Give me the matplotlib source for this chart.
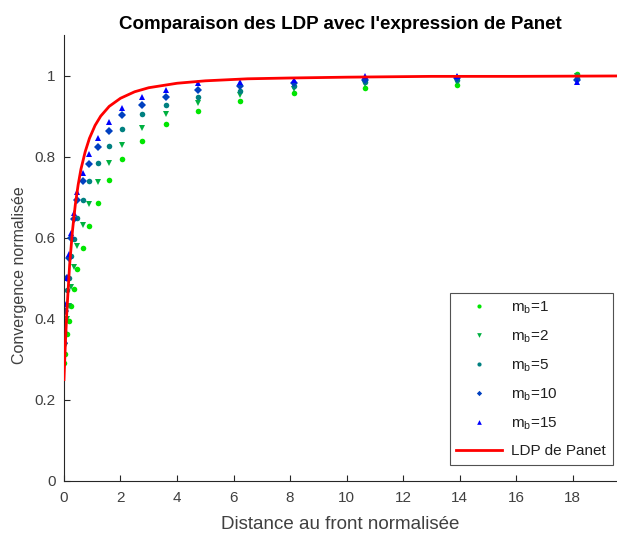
import numpy as np
import matplotlib as mpl
mpl.use('Agg')
import matplotlib.pyplot as plt

mpl.rcParams['font.family'] = ['Liberation Sans', 'DejaVu Sans']

# normalised distance to the face (shared by all series)
dist = [0.0, 0.05, 0.12, 0.19, 0.26, 0.35, 0.47, 0.66, 0.90, 1.19,
        1.58, 2.07, 2.76, 3.62, 4.76, 6.22, 8.14, 10.65, 13.91, 18.15]

# normalised convergence for each m_b
conv_mb1 = [0.292, 0.314, 0.363, 0.395, 0.432, 0.473, 0.522, 0.575, 0.630, 0.686,
            0.742, 0.793, 0.839, 0.880, 0.913, 0.938, 0.957, 0.970, 0.977, 1.003]
conv_mb2 = [0.310, 0.333, 0.400, 0.432, 0.478, 0.528, 0.579, 0.631, 0.683, 0.737,
            0.784, 0.829, 0.870, 0.905, 0.932, 0.952, 0.966, 0.978, 0.983, 0.998]
conv_mb5 = [0.370, 0.420, 0.470, 0.500, 0.555, 0.598, 0.649, 0.694, 0.741, 0.784,
            0.827, 0.868, 0.905, 0.928, 0.948, 0.963, 0.975, 0.985, 0.990, 0.993]
conv_mb10 = [0.340, 0.420, 0.500, 0.550, 0.600, 0.645, 0.692, 0.739, 0.782, 0.823,
             0.864, 0.903, 0.928, 0.948, 0.965, 0.975, 0.982, 0.990, 0.995, 0.988]
conv_mb15 = [0.350, 0.437, 0.500, 0.560, 0.612, 0.661, 0.712, 0.760, 0.806, 0.847,
             0.885, 0.921, 0.948, 0.965, 0.982, 0.985, 0.990, 0.998, 1.000, 0.985]

# Panet curve
panet_x = [0.0, 0.05, 0.1, 0.2, 0.3, 0.4, 0.5, 0.6, 0.75, 0.9, 1.1, 1.3, 1.6,
           2.0, 2.5, 3.0, 4.0, 5.0, 6.5, 8.0, 10.0, 13.0, 16.0, 19.6]
panet_y = [0.250, 0.341, 0.416, 0.533, 0.617, 0.681, 0.730, 0.769, 0.812, 0.845,
           0.877, 0.900, 0.924, 0.944, 0.960, 0.970, 0.981, 0.987, 0.992, 0.994,
           0.996, 0.998, 0.998, 0.999]

series = [
    ('m$_\\mathregular{b}$=1', conv_mb1, '#00e600', 'o', 4.0),
    ('m$_\\mathregular{b}$=2', conv_mb2, '#00b040', 'v', 4.5),
    ('m$_\\mathregular{b}$=5', conv_mb5, '#008080', 'o', 4.0),
    ('m$_\\mathregular{b}$=10', conv_mb10, '#0040c0', 'D', 3.6),
    ('m$_\\mathregular{b}$=15', conv_mb15, '#0000ff', '^', 4.5),
]

fig = plt.figure(figsize=(6.17, 5.37), dpi=100)
ax = fig.add_axes([0.1037, 0.1043, 0.8963, 0.8305])

for label, vals, col, mk, ms in series:
    ax.plot(dist, vals, linestyle='none', marker=mk, markersize=ms,
            color=col, markeredgewidth=0, label=label)

ax.plot(panet_x, panet_y, color='#ff0000', lw=2, label='LDP de Panet', zorder=5)

ax.set_xlim(0, 19.57)
ax.set_ylim(0, 1.1)
ax.set_xticks(np.arange(0, 19, 2))
ax.set_yticks([0, 0.2, 0.4, 0.6, 0.8, 1])
ax.set_yticklabels(['0', '0.2', '0.4', '0.6', '0.8', '1'])

for s in ['top', 'right']:
    ax.spines[s].set_visible(False)
for s in ['left', 'bottom']:
    ax.spines[s].set_color('#262626')
    ax.spines[s].set_linewidth(0.8)
ax.tick_params(direction='in', length=4, width=0.8, colors='#262626',
               labelsize=11, labelcolor='#404040')
ax.tick_params(axis='x', pad=7)
ax.tick_params(axis='y', pad=6)

ax.set_title("Comparaison des LDP avec l'expression de Panet",
             fontsize=13.5, fontweight='bold', pad=4)
ax.set_xlabel('Distance au front normalisée', fontsize=13.5, color='#404040', labelpad=8)
ax.set_ylabel('Convergence normalisée', fontsize=11.5, color='#404040')
ax.yaxis.set_label_coords(-0.067, 0.462)

leg = ax.legend(loc='lower right', bbox_to_anchor=(0.9928, 0.0354), borderaxespad=0,
                fontsize=11, frameon=True, fancybox=False, edgecolor='#262626',
                handlelength=3.0, handletextpad=0.6, labelspacing=0.8,
                borderpad=0.45, markerscale=0.75)
leg.get_frame().set_linewidth(0.8)
for t in leg.get_texts():
    t.set_color('#202020')

fig.savefig('out.png', dpi=100)
